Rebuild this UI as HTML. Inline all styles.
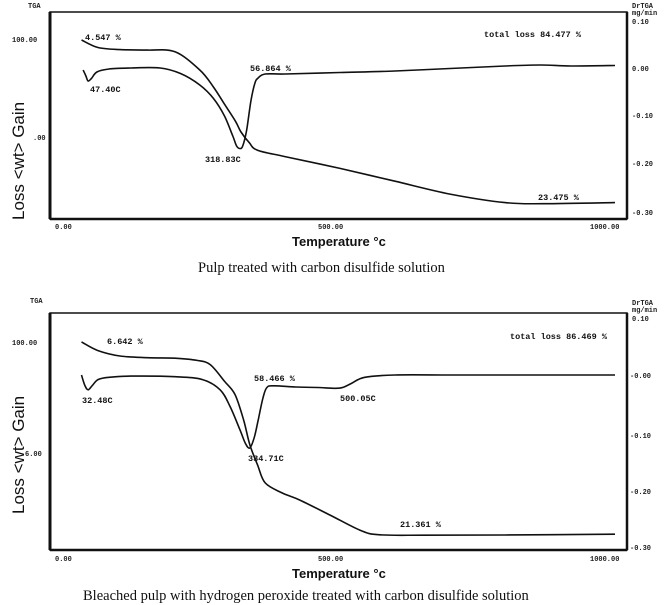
<!DOCTYPE html>
<html><head><meta charset="utf-8"><style>
body{margin:0;background:#fff;width:670px;height:605px;overflow:hidden;position:relative;font-family:"Liberation Sans",sans-serif}
svg{position:absolute;left:0;top:0}
.t{font-family:"Liberation Mono",monospace;font-size:7px;font-weight:bold;fill:#222}
.a{font-family:"Liberation Mono",monospace;font-size:8.5px;font-weight:bold;fill:#111}
.yt{font-family:"Liberation Sans",sans-serif;font-size:17px;fill:#111}
.xt{font-family:"Liberation Sans",sans-serif;font-size:13px;font-weight:bold;fill:#111}
.cap{font-family:"Liberation Serif",serif;font-size:14.5px;fill:#111}
</style></head><body>
<svg id="c" width="670" height="605">
 <g>
  <rect x="50" y="12" width="577" height="207" fill="none" stroke="#111" stroke-width="1.5"/>
  <line x1="50" y1="12" x2="50" y2="219" stroke="#111" stroke-width="3"/>
  <line x1="50" y1="219" x2="627" y2="219" stroke="#111" stroke-width="2.5"/>
  <line x1="627" y1="12" x2="627" y2="219" stroke="#111" stroke-width="2.5"/>
  <text class="t" x="28" y="8">TGA</text>
  <text class="t" x="12" y="42">100.00</text>
  <text class="t" x="33" y="140">.00</text>
  <text class="t" x="55" y="229">0.00</text>
  <text class="t" x="318" y="229">500.00</text>
  <text class="t" x="590" y="229">1000.00</text>
  <text class="t" x="632" y="8">DrTGA</text>
  <text class="t" x="632" y="15">mg/min</text>
  <text class="t" x="632" y="71">0.00</text>
  <text class="t" x="632" y="118">-0.10</text>
  <text class="t" x="632" y="166">-0.20</text>
  <text class="t" x="632" y="215">-0.30</text>
  <text class="t" x="632" y="24">0.10</text>
  <text class="yt" transform="translate(24,220) rotate(-90)">Loss &lt;wt&gt; Gain</text>
  <text class="xt" x="292" y="246">Temperature °c</text>
  <text class="cap" x="198" y="272">Pulp treated with carbon disulfide solution</text>
  <text class="a" x="85" y="40">4.547 %</text>
  <text class="a" x="90" y="92">47.40C</text>
  <text class="a" x="205" y="162">318.83C</text>
  <text class="a" x="250" y="71">56.864 %</text>
  <text class="a" x="484" y="37">total loss 84.477 %</text>
  <text class="a" x="538" y="200">23.475 %</text>
 </g>
 <g>
  <rect x="50" y="313" width="577" height="237" fill="none" stroke="#111" stroke-width="1.5"/>
  <line x1="50" y1="313" x2="50" y2="550" stroke="#111" stroke-width="3"/>
  <line x1="50" y1="550" x2="627" y2="550" stroke="#111" stroke-width="2.5"/>
  <line x1="627" y1="313" x2="627" y2="550" stroke="#111" stroke-width="2.5"/>
  <text class="t" x="30" y="303">TGA</text>
  <text class="t" x="12" y="345">100.00</text>
  <text class="t" x="25" y="456">6.00</text>
  <text class="t" x="55" y="561">0.00</text>
  <text class="t" x="318" y="561">500.00</text>
  <text class="t" x="590" y="561">1000.00</text>
  <text class="t" x="632" y="305">DrTGA</text>
  <text class="t" x="632" y="312">mg/min</text>
  <text class="t" x="632" y="321">0.10</text>
  <text class="t" x="630" y="378">-0.00</text>
  <text class="t" x="630" y="438">-0.10</text>
  <text class="t" x="630" y="494">-0.20</text>
  <text class="t" x="630" y="550">-0.30</text>
  <text class="yt" transform="translate(24,514) rotate(-90)">Loss &lt;wt&gt; Gain</text>
  <text class="xt" x="292" y="578">Temperature °c</text>
  <text class="cap" x="83" y="600">Bleached pulp with hydrogen peroxide treated with carbon disulfide solution</text>
  <text class="a" x="107" y="344">6.642 %</text>
  <text class="a" x="82" y="403">32.48C</text>
  <text class="a" x="248" y="461">334.71C</text>
  <text class="a" x="254" y="381">58.466 %</text>
  <text class="a" x="340" y="401">500.05C</text>
  <text class="a" x="510" y="339">total loss 86.469 %</text>
  <text class="a" x="400" y="527">21.361 %</text>
 </g>
</svg>
<script>
// Panel 1 data
const temp1TGA = [30,60,100,150,200,245,270,290,310,320,335,350,400,500,600,700,800,870,1000];
const wt1 = [100,96.5,95.5,95.3,94.5,86,78,70,62,57,52,48.5,45.5,40,34,28,24,23.5,24];
const temp1DTG = [33,38,42,48,58,80,120,173,210,245,270,290,305,312,318,323,330,338,345,351,364,400,500,600,700,800,864,920,1000];
const dtg1 = [-0.008,-0.02,-0.03,-0.025,-0.012,-0.006,-0.004,-0.004,-0.015,-0.038,-0.065,-0.1,-0.14,-0.16,-0.165,-0.16,-0.13,-0.07,-0.035,-0.024,-0.016,-0.016,-0.013,-0.01,-0.005,0.0,0.002,0.0,0.001];
// Panel 2 data
const temp2TGA = [30,60,100,150,200,240,264,290,309,325,336,350,364,395,427,482,536,570,650,800,1000];
const wt2 = [100,96.5,94.3,93.6,93.4,92.5,90.8,84,78.6,68,58.2,50,42.6,38.5,35.6,29.5,23.4,21.5,21.3,21.4,21.7];
const temp2DTG = [30,36,42,50,60,80,120,200,250,282,300,318,328,336,344,351,360,367,380,420,460,500,520,545,600,700,800,900,1000];
const dtg2 = [0.0,-0.018,-0.026,-0.018,-0.008,-0.004,-0.002,-0.003,-0.008,-0.026,-0.055,-0.096,-0.12,-0.128,-0.11,-0.08,-0.04,-0.022,-0.019,-0.021,-0.022,-0.023,-0.015,-0.004,0.0,0.0,0.0,0.0,0.0];

const xScale = t => 65 + 0.55 * t;
const y1TGA = w => 40 + (100 - w) * 2.14;
const y1DTG = d => 66 - 500 * d;
const y2TGA = w => 342 + (100 - w) * 2.455;
const y2DTG = d => 375 - 570 * d;

const svg = document.getElementById('c');
function line(ts, vs, ys, name) {
  const pts = ts.map((t, i) => [xScale(t), ys(vs[i])]);
  let d = 'M' + pts[0][0].toFixed(1) + ',' + pts[0][1].toFixed(1);
  for (let i = 0; i < pts.length - 1; i++) {
    const p0 = pts[Math.max(0, i - 1)], p1 = pts[i], p2 = pts[i + 1], p3 = pts[Math.min(pts.length - 1, i + 2)];
    const c1 = [p1[0] + (p2[0] - p0[0]) / 6, p1[1] + (p2[1] - p0[1]) / 6];
    const c2 = [p2[0] - (p3[0] - p1[0]) / 6, p2[1] - (p3[1] - p1[1]) / 6];
    d += ' C' + c1.map(v => v.toFixed(1)).join(',') + ' ' + c2.map(v => v.toFixed(1)).join(',') + ' ' + p2.map(v => v.toFixed(1)).join(',');
  }
  const p = document.createElementNS('http://www.w3.org/2000/svg', 'path');
  p.setAttribute('d', d);
  p.setAttribute('fill', 'none');
  p.setAttribute('stroke', '#111');
  p.setAttribute('stroke-width', '1.6');
  p.setAttribute('stroke-linejoin', 'round');
  
  
  svg.appendChild(p);
}
line(temp1TGA, wt1, y1TGA, 'tga-curve-1');
line(temp1DTG, dtg1, y1DTG, 'dtg-curve-1');
line(temp2TGA, wt2, y2TGA, 'tga-curve-2');
line(temp2DTG, dtg2, y2DTG, 'dtg-curve-2');
</script>
</body></html>
